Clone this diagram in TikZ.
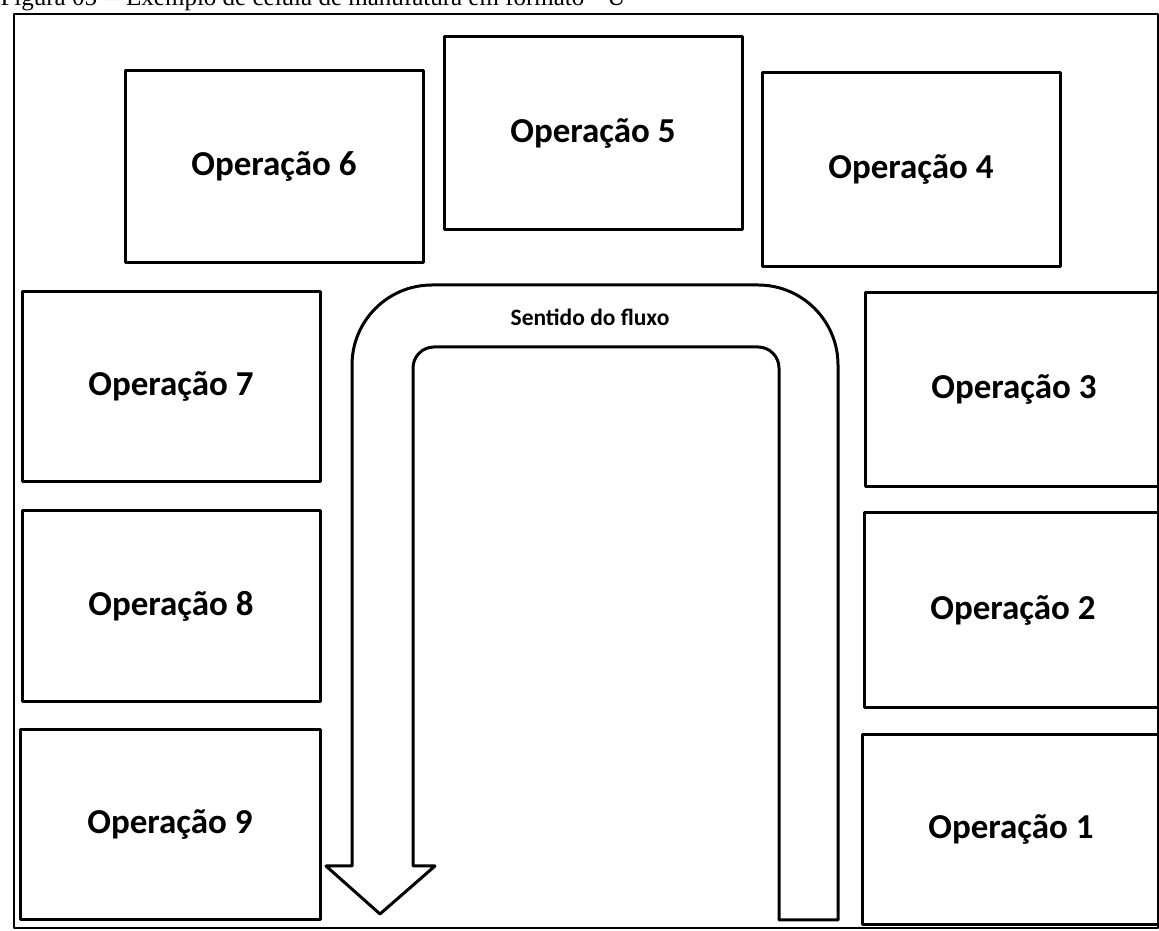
\documentclass[tikz,border=0pt]{standalone}
\usepackage{fontspec}
\setmainfont{Carlito}
\newfontfamily\capfont{Liberation Serif}
\begin{document}
\begin{tikzpicture}[x=1pt,y=1pt,line join=round,line cap=round,
  opbox/.style={draw,line width=3pt,inner sep=0pt,minimum width=298pt,minimum height=192pt,font=\fontsize{35}{40}\selectfont\bfseries}]
\useasboundingbox (0,0) rectangle (1159,931);
\node[anchor=base west,font=\capfont\fontsize{25}{28}\selectfont] (cap) at (-3,925) {Figura 05 -- Exemplo de célula de manufatura em formato ``U''};
\draw[line width=1.3pt] (14,3) rectangle (1158,917);
\node[opbox] (op6) at (274,764.5) {Operação 6};
\node[opbox,minimum height=193pt] (op5) at (593,797.5) {Operação 5};
\node[opbox,minimum height=194pt] (op4) at (911,761) {Operação 4};
\node[opbox,minimum height=190pt] (op7) at (171,544) {Operação 7};
\node[opbox,minimum height=191pt] (op8) at (171,324.5) {Operação 8};
\node[opbox,minimum width=300pt,minimum height=190pt] (op9) at (170,106) {Operação 9};
\node[opbox,minimum height=194pt] (op3) at (1014,541) {Operação 3};
\node[opbox,minimum height=195pt] (op2) at (1013,320.5) {Operação 2};
\node[opbox,minimum height=190pt] (op1) at (1011,101) {Operação 1};
% fluxo em U
\draw[line width=3pt] (380,17)--(435,65)--(413,65)--(413,563)
  arc[start angle=180,end angle=90,radius=21]--(758,584)
  arc[start angle=90,end angle=0,radius=21]--(779,11)--(838,11)--(838,566)
  arc[start angle=0,end angle=90,radius=80]--(432,646)
  arc[start angle=90,end angle=180,radius=80]--(352,65)--(326,65)--cycle;
\node[font=\fontsize{23.5}{26}\selectfont\bfseries] (sent) at (590,614) {Sentido do fluxo};
\end{tikzpicture}
\end{document}
